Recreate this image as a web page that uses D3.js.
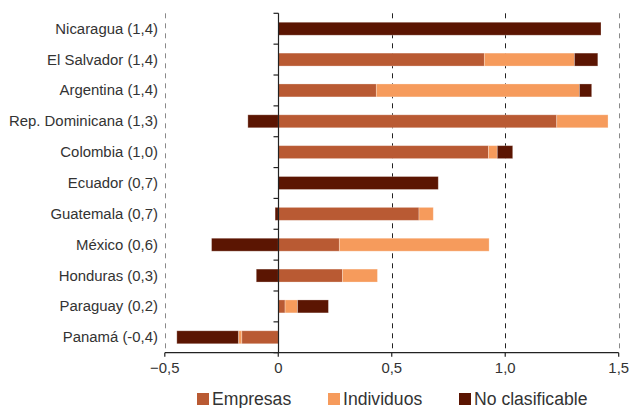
<!DOCTYPE html>
<html>
<head>
<meta charset="utf-8">
<script src="https://cdn.jsdelivr.net/npm/d3@7"></script>
<style>
  html, body { margin: 0; padding: 0; background: #fff; }
  svg { display: block; font-family: "Liberation Sans", Arial, sans-serif; }
</style>
</head>
<body>
<svg id="chart" width="629" height="408"></svg>
<script>
const categories = ["Nicaragua (1,4)", "El Salvador (1,4)", "Argentina (1,4)", "Rep. Dominicana (1,3)",
  "Colombia (1,0)", "Ecuador (0,7)", "Guatemala (0,7)", "México (0,6)", "Honduras (0,3)",
  "Paraguay (0,2)", "Panamá (-0,4)"];
const empresas       = [0, 0.908, 0.432, 1.227, 0.926, 0, 0.620, 0.269, 0.283, 0.030, -0.161];
const individuos     = [0, 0.397, 0.895, 0.226, 0.039, 0, 0.063, 0.660, 0.154, 0.055, -0.015];
const noClasificable = [1.422, 0.103, 0.054, -0.134, 0.068, 0.705, -0.014, -0.294, -0.097, 0.136, -0.271];
const seriesNames = ["Empresas", "Individuos", "No clasificable"];
const seriesColors = ["#b95a33", "#f69b5c", "#5b1502"];
const xTicks = [-0.5, 0, 0.5, 1.0, 1.5];

const rows = categories.map((c, i) => ({
  cat: c, "Empresas": empresas[i], "Individuos": individuos[i], "No clasificable": noClasificable[i]
}));

const svg = d3.select("#chart");
const x = d3.scaleLinear().domain([-0.5, 1.5]).range([164.8, 618.7]);
const y = d3.scaleBand().domain(categories).range([13.3, 352.7]).paddingInner(0.58).paddingOuter(0.29);
const fmt = v => d3.format(".1f")(v).replace(".", ",");

// gridlines
svg.append("g").selectAll("line").data(xTicks.filter(t => t !== 0)).join("line")
  .attr("x1", d => Math.round(x(d)) + 0.5).attr("x2", d => Math.round(x(d)) + 0.5)
  .attr("y1", 13.3).attr("y2", 352.7)
  .attr("stroke", d => (d === -0.5 || d === 1.5) ? "#8a8a8a" : "#222")
  .attr("stroke-width", 1)
  .attr("stroke-dasharray", "5,5");

// bars
const stack = d3.stack().keys(seriesNames).offset(d3.stackOffsetDiverging);
const stacked = stack(rows);
svg.append("g").selectAll("g").data(stacked).join("g")
  .attr("fill", (d, i) => seriesColors[i])
  .selectAll("rect").data(d => d.filter(p => Math.abs(p[1] - p[0]) > 1e-9)).join("rect")
  .attr("x", d => x(Math.min(d[0], d[1])))
  .attr("width", d => Math.abs(x(d[1]) - x(d[0])))
  .attr("y", d => y(d.data.cat))
  .attr("height", y.bandwidth())
  .attr("stroke", "rgba(255,255,255,0.35)")
  .attr("stroke-width", 0.8);

// y axis
const yAxis = svg.append("g");
const x0 = Math.round(x(0)) + 0.5;
yAxis.append("line").attr("x1", x0).attr("x2", x0).attr("y1", 13.3).attr("y2", 352.7)
  .attr("stroke", "#222").attr("stroke-width", 1.2);
const step = y.step();
const boundaries = d3.range(categories.length + 1).map(i => y.range()[0] + i * step);
yAxis.selectAll("line.tk").data(boundaries).join("line").attr("class", "tk")
  .attr("x1", x0 - 5).attr("x2", x0).attr("y1", d => d).attr("y2", d => d)
  .attr("stroke", "#222").attr("stroke-width", 1.2);
svg.append("g").selectAll("text").data(categories).join("text")
  .attr("x", 158).attr("y", d => y(d) + y.bandwidth() / 2)
  .attr("text-anchor", "end").attr("dominant-baseline", "central")
  .attr("font-size", "14.9px").attr("fill", "#333")
  .text(d => d);

// x axis
const xAxis = svg.append("g");
const yAx = 352.7;
xAxis.append("line").attr("x1", x(-0.5)).attr("x2", x(1.5)).attr("y1", yAx).attr("y2", yAx)
  .attr("stroke", "#222").attr("stroke-width", 1.2);
xAxis.selectAll("line.tk").data(xTicks).join("line").attr("class", "tk")
  .attr("x1", d => x(d)).attr("x2", d => x(d)).attr("y1", yAx).attr("y2", yAx + 4)
  .attr("stroke", "#222").attr("stroke-width", 1.2);
xAxis.selectAll("text").data(xTicks).join("text")
  .attr("x", d => x(d)).attr("y", 373)
  .attr("text-anchor", "middle").attr("font-size", "14.9px").attr("fill", "#333")
  .text(d => d === 0 ? "0" : fmt(d));

// legend
const legendX = [197, 328, 459];
const lg = svg.append("g").selectAll("g").data(seriesNames).join("g")
  .attr("transform", (d, i) => `translate(${legendX[i]},393)`);
lg.append("rect").attr("width", 12).attr("height", 12).attr("fill", (d, i) => seriesColors[i]);
lg.append("text").attr("x", 15).attr("y", 11.8).attr("font-size", "17.6px").attr("fill", "#333").text(d => d);
</script>
</body>
</html>
